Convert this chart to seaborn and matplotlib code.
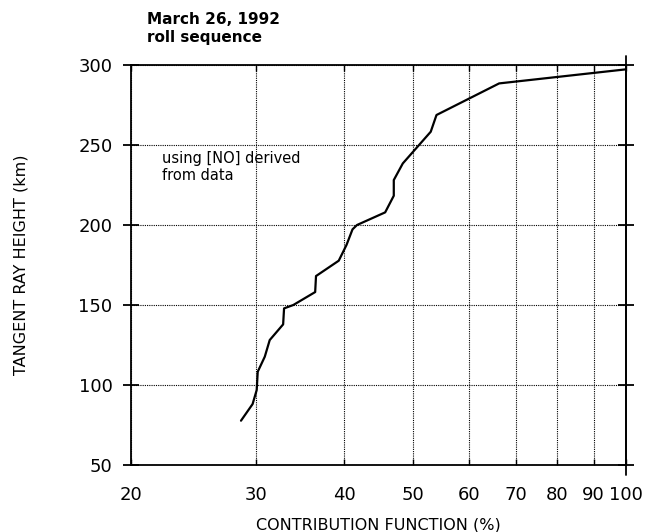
import matplotlib
matplotlib.use("Agg")
import matplotlib.pyplot as plt
import seaborn as sns
import pandas as pd
from matplotlib.ticker import FixedLocator, NullLocator, FixedFormatter

# Data
contribution = [28.6, 29.7, 30.1, 30.2, 30.9, 31.4, 32.8, 32.9, 33.9, 36.4, 36.5,
                39.3, 40.3, 41.1, 41.7, 45.7, 47.0, 47.0, 48.4, 53.0, 54.0, 66.2, 100.0]
height = [77.7, 88.1, 96.9, 108.3, 117.7, 128.1, 137.9, 147.9, 150.0, 158.1, 168.1,
          177.7, 187.5, 197.3, 200.0, 207.9, 218.3, 228.1, 238.5, 258.3, 268.75, 288.5, 297.3]
x_ticks = [20, 30, 40, 50, 60, 70, 80, 90, 100]
x_ticklabels = ["20", "30", "40", "50", "60", "70", "80", "90", "100"]
y_ticks = [50, 100, 150, 200, 250, 300]

sns.set_theme(style="white")
plt.rcParams['font.family'] = ['DejaVu Sans']

df = pd.DataFrame({"cf": contribution, "h": height})

fig = plt.figure(figsize=(6.49, 5.32), dpi=100)
ax = fig.add_axes([0.2018, 0.1259, 0.7628, 0.7519])

sns.lineplot(data=df, x="cf", y="h", sort=False, estimator=None, color="black",
             linewidth=1.6, ax=ax)

ax.set_xscale("log")
ax.set_xlim(20, 100)
ax.set_ylim(50, 300)
ax.xaxis.set_major_locator(FixedLocator(x_ticks))
ax.xaxis.set_major_formatter(FixedFormatter(x_ticklabels))
ax.xaxis.set_minor_locator(NullLocator())
ax.set_yticks(y_ticks)

ax.grid(True, which="major", linestyle=(0, (1, 1)), color="black", linewidth=0.8)
for s in ax.spines.values():
    s.set_color("black")
    s.set_linewidth(1.3)

# right edge (100 %) line extends slightly past the frame as in the reference
ax.axvline(100, ymin=-0.025, ymax=1.022, color="black", linewidth=1.3, clip_on=False)

ax.tick_params(axis="y", which="major", direction="inout", length=11.5, width=1.3,
               left=True, right=True, labelsize=13, pad=7.5, colors="black")
ax.tick_params(axis="x", which="major", direction="in", length=4, width=1.0,
               bottom=True, top=True, labelsize=13, pad=15, colors="black")

ax.set_xlabel("CONTRIBUTION FUNCTION (%)", fontsize=11.5, labelpad=10, color="black")
ax.set_ylabel("TANGENT RAY HEIGHT (km)", fontsize=11.5, labelpad=36, color="black")

fig.text(147 / 649, 1 - 12 / 532, "March 26, 1992\nroll sequence", fontsize=11,
         fontweight="bold", ha="left", va="top", linespacing=1.25, color="black")
fig.text(162 / 649, 1 - 151 / 532, "using [NO] derived\nfrom data",
         fontsize=10.5, ha="left", va="top", linespacing=1.15, color="black")

fig.savefig("out.png", dpi=100)
